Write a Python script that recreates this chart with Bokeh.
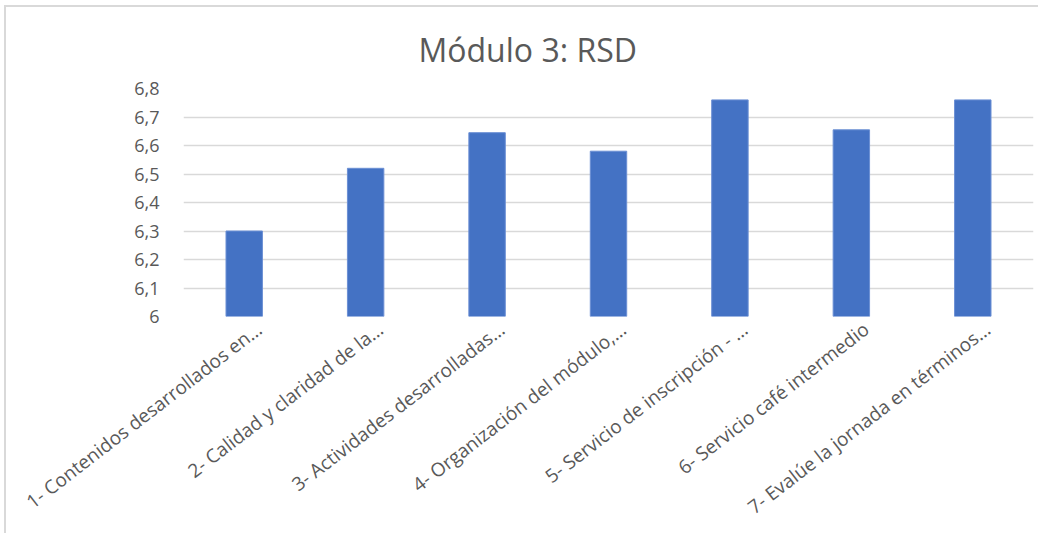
from bokeh.plotting import figure
from bokeh.models import (FixedTicker, CustomJSTickFormatter, Title, LinearAxis,
                          Range1d, ColumnDataSource)
from bokeh.embed import file_html
from bokeh.resources import INLINE

categories = [
    "1- Contenidos desarrollados en…",
    "2- Calidad y claridad de la…",
    "3- Actividades desarrolladas…",
    "4- Organización del módulo,…",
    "5- Servicio de inscripción - …",
    "6- Servicio café intermedio",
    "7- Evalúe la jornada en términos…",
]
values = [6.30, 6.52, 6.645, 6.58, 6.76, 6.655, 6.76]
y_ticks = [6.0, 6.1, 6.2, 6.3, 6.4, 6.5, 6.6, 6.7, 6.8]

FONT = "Open Sans"
GREY = "#595959"

n = len(categories)
# category slots: slot i spans [i, i+1] on a linear axis
src = ColumnDataSource(dict(pos=[i + 0.5 for i in range(n)], cat=categories, val=values))

p = figure(x_range=Range1d(0, n), y_range=(6.0, 6.8), width=1034, height=528,
           output_backend="svg", toolbar_location=None,
           min_border_left=177, min_border_right=7, min_border_top=81,
           min_border_bottom=219)
p.styles = {"border-left": "2px solid #d9d9d9", "border-top": "2px solid #d9d9d9",
            "margin-left": "4px", "margin-top": "5px"}

p.vbar(x="pos", top="val", bottom=6.0, width=0.3, source=src,
       fill_color="#4472c4", line_color="#6b8fd4", line_width=1)

t = Title(text="Módulo 3: RSD", align="left", text_font=FONT,
          text_font_size="32px", text_font_style="normal", text_color=GREY,
          standoff=36, offset=235)
p.add_layout(t, "above")

p.outline_line_color = None
p.xgrid.grid_line_color = None
p.ygrid.grid_line_color = "#d9d9d9"
p.ygrid.grid_line_width = 1.5
p.yaxis.ticker = FixedTicker(ticks=y_ticks)
p.yaxis.formatter = CustomJSTickFormatter(
    code="return (Math.round(tick*10)/10).toString().replace('.', ',');")
p.yaxis.axis_line_color = None
p.yaxis.major_tick_line_color = None
p.yaxis.minor_tick_line_color = None
p.yaxis.major_label_standoff = 18
p.yaxis.major_label_text_font = FONT
p.yaxis.major_label_text_font_size = "18px"
p.yaxis.major_label_text_color = GREY

# category labels on a slightly shifted helper range so the rotated
# labels end a little right of each bar centre, as in the original
p.xaxis.visible = False
shift = 0.124
p.extra_x_ranges = {"lab": Range1d(start=-shift, end=n - shift)}
xax = LinearAxis(x_range_name="lab")
xax.ticker = FixedTicker(ticks=[i + 0.5 for i in range(n)])
xax.formatter = CustomJSTickFormatter(args=dict(labels=categories),
                                      code="return labels[Math.round(tick - 0.5)];")
xax.axis_line_color = None
xax.major_tick_line_color = None
xax.minor_tick_line_color = None
xax.major_label_orientation = 0.656
xax.major_label_standoff = 4
xax.major_label_text_font = FONT
xax.major_label_text_font_size = "19px"
xax.major_label_text_color = GREY
p.add_layout(xax, "below")

open("out.html", "w").write(file_html(p, INLINE))
